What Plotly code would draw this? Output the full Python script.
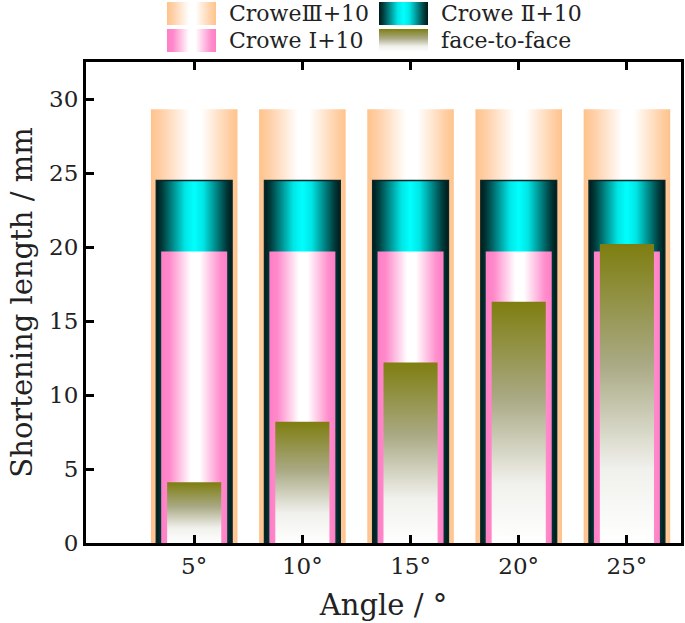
import plotly.graph_objects as go

# ---------------- data ----------------
angles = ["5°", "10°", "15°", "20°", "25°"]
crowe3 = [29.3, 29.3, 29.3, 29.3, 29.3]
crowe2 = [24.5, 24.5, 24.5, 24.5, 24.5]
crowe1 = [19.7, 19.7, 19.7, 19.7, 19.7]
face = [4.1, 8.2, 12.2, 16.3, 20.2]

series_names = ["CroweⅢ+10", "Crowe Ⅱ+10", "Crowe Ⅰ+10", "face-to-face"]

# ---------------- styles ----------------
FONT = "DejaVu Serif, Liberation Serif, serif"
W, H = 685, 623
ML, MR, MT, MB = 86, 4, 0, 80
PAPER_H = H - MT - MB
PLOT_TOP_PX = 62
LEG_BOTTOM_PX = 58

widths = [0.80, 0.70, 0.61, 0.50]
peach_cs = [[0, "#ffc38c"], [0.12, "#ffcfa6"], [0.45, "#ffffff"], [0.58, "#ffffff"], [0.9, "#ffcfa4"], [1, "#ffc38c"]]
teal_cs = [[0, "#001a1a"], [0.08, "#003c3c"], [0.38, "#00e6e6"], [0.5, "#00ffff"], [0.62, "#00e6e6"], [0.92, "#003c3c"], [1, "#001a1a"]]
pink_cs = [[0, "#ff7fc6"], [0.12, "#ff88ca"], [0.45, "#ffffff"], [0.58, "#ffffff"], [0.9, "#ff8ccc"], [1, "#ff7fc6"]]
olive_cs = [[0, "#ffffff"], [0.25, "#f0f0ec"], [0.6, "#a9a984"], [1, "#7e7e10"]]

styles = [
    dict(cs=peach_cs, gtype="horizontal", line=None),
    dict(cs=teal_cs, gtype="horizontal", line="#0a2626"),
    dict(cs=pink_cs, gtype="horizontal", line=None),
    dict(cs=olive_cs, gtype="vertical", line=None),
]

fig = go.Figure()


def bar_poly(i, val, w):
    x0, x1 = i - w / 2, i + w / 2
    return [x0, x1, x1, x0, x0], [0, 0, val, val, 0]


for s, (vals, st, w) in enumerate(zip([crowe3, crowe2, crowe1, face], styles, widths)):
    for i, v in enumerate(vals):
        xs, ys = bar_poly(i, v, w)
        fig.add_trace(go.Scatter(
            x=xs, y=ys, mode="lines", fill="toself",
            line=dict(color=st["line"] if st["line"] else "rgba(0,0,0,0)", width=1.5 if st["line"] else 0),
            fillgradient=dict(type=st["gtype"], colorscale=st["cs"]),
            showlegend=False, hoverinfo="skip", xaxis="x", yaxis="y",
        ))

# ---------------- manual legend (gradient swatches) ----------------
leg_items = [
    (0, 167, 2, 25),
    (1, 379, 2, 25),
    (2, 167, 29, 52),
    (3, 379, 29, 52),
]
for s, lx, ly0, ly1 in leg_items:
    st = styles[s]
    fig.add_trace(go.Scatter(
        x=[lx, lx + 49, lx + 49, lx, lx], y=[ly1, ly1, ly0, ly0, ly1],
        mode="lines", fill="toself",
        line=dict(color="rgba(0,0,0,0)", width=0),
        fillgradient=dict(type=st["gtype"], colorscale=st["cs"]),
        showlegend=False, hoverinfo="skip", xaxis="x2", yaxis="y2",
    ))
    fig.add_annotation(
        x=lx + 60, y=(ly0 + ly1) / 2, xref="x2", yref="y2",
        text=series_names[s], showarrow=False, xanchor="left", yanchor="middle",
        font=dict(family=FONT, size=22, color="#222222"),
    )

main_top = 1 - PLOT_TOP_PX / PAPER_H
leg_bottom = 1 - LEG_BOTTOM_PX / PAPER_H

fig.update_layout(
    width=W, height=H,
    margin=dict(l=ML, r=MR, t=MT, b=MB, autoexpand=False),
    plot_bgcolor="white", paper_bgcolor="white",
    showlegend=False,
    font=dict(family=FONT, color="#222222"),
    xaxis=dict(
        domain=[0, 1], anchor="y", range=[-1.0, 4.5], automargin=False,
        tickmode="array", tickvals=list(range(len(angles))), ticktext=angles,
        ticks="inside", ticklen=8, tickwidth=3, tickcolor="black",
        showline=True, linewidth=3, linecolor="black", mirror="ticks",
        showgrid=False, zeroline=False,
        tickfont=dict(family=FONT, size=23, color="#222222"),
        title=dict(text="Angle / °", font=dict(family=FONT, size=29, color="#222222"), standoff=18),
    ),
    yaxis=dict(
        domain=[0, main_top], anchor="x", range=[0, 32.5], automargin=False,
        tickmode="linear", tick0=0, dtick=5,
        ticks="inside", ticklen=8, tickwidth=3, tickcolor="black",
        showline=True, linewidth=3, linecolor="black", mirror=True,
        showgrid=False, zeroline=False,
        tickfont=dict(family=FONT, size=23, color="#222222"),
        title=dict(text="Shortening length / mm", font=dict(family=FONT, size=29, color="#222222"), standoff=8),
    ),
    xaxis2=dict(domain=[0, 1], anchor="y2", range=[ML, W - MR], visible=False, fixedrange=True),
    yaxis2=dict(domain=[leg_bottom, 1], anchor="x2", range=[LEG_BOTTOM_PX, 0], visible=False, fixedrange=True),
)

fig.write_html("out.html", config={"displayModeBar": False},
               post_script="document.body.style.margin='0';")
